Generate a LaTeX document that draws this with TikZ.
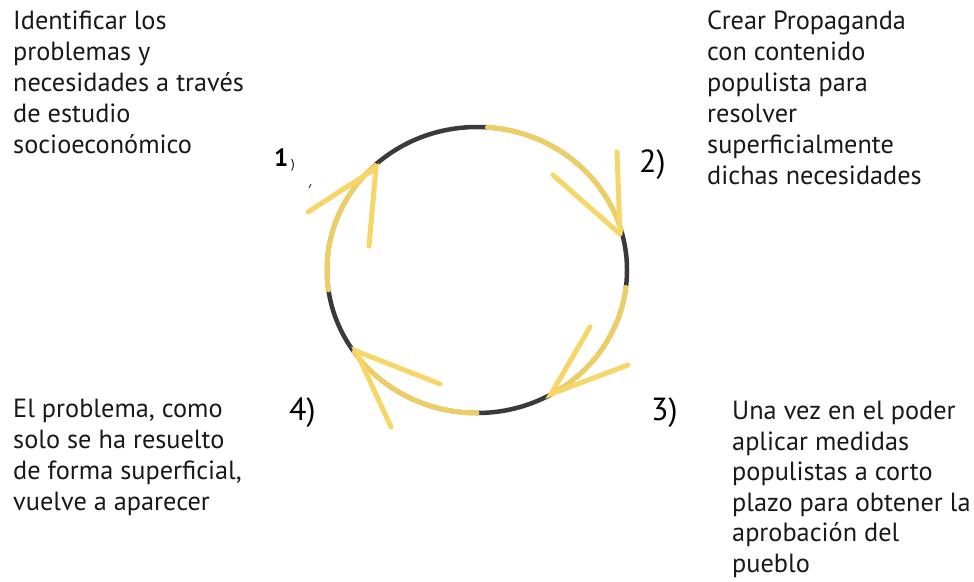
\documentclass[tikz,border=0pt]{standalone}
\usepackage{fontspec}
\setmainfont{PT Sans}
\definecolor{ylw}{RGB}{246,214,104}
\definecolor{drk}{RGB}{58,58,58}
\tikzset{
  ring/.style={draw=drk, line width=4.5pt},
  ylwarc/.style={draw=ylw, line width=5pt, opacity=0.95, line cap=round},
  headline/.style={draw=ylw, line width=5pt, line cap=round},
  desc/.style={anchor=base west, inner sep=0pt, align=left, text=black!90,
    font=\fontsize{26.3}{31}\selectfont},
  num/.style={inner sep=0pt, anchor=base west, font=\fontsize{32}{32}\selectfont}
}
\begin{document}
\begin{tikzpicture}[x=1pt, y=-1pt]
\useasboundingbox (0,0) rectangle (974,581);
% ring
\draw[ring] (477,270) ellipse [x radius=150pt, y radius=143pt];
\draw[ylwarc] plot[domain=86:16, samples=40] ({477+150*cos(\x)},{270-143*sin(\x)});
\draw[ylwarc] plot[domain=-7:-60, samples=40] ({477+150*cos(\x)},{270-143*sin(\x)});
\draw[ylwarc] plot[domain=-90:-145, samples=40] ({477+150*cos(\x)},{270-143*sin(\x)});
\draw[ylwarc] plot[domain=188:133, samples=40] ({477+150*cos(\x)},{270-143*sin(\x)});
% arrow heads
\coordinate (t1) at (376,168);
\coordinate (a1) at (308,212);
\coordinate (b1) at (369,246);
\coordinate (t2) at (620,234);
\coordinate (a2) at (617,152);
\coordinate (b2) at (553,175);
\coordinate (t3) at (551,394);
\coordinate (a3) at (590,327);
\coordinate (b3) at (628,365);
\coordinate (t4) at (356,351);
\coordinate (a4) at (440,384);
\coordinate (b4) at (391,427);
\draw[headline] (a1) -- (t1) -- (b1);
\draw[headline] (a2) -- (t2);
\draw[headline] (b2) -- (t2);
\draw[headline] (a3) -- (t3) -- (b3);
\draw[headline] (a4) -- (t4) -- (b4);
% step numbers
\node[inner sep=0pt, anchor=base west, font=\bfseries\fontsize{25}{25}\selectfont] (n1) at (274,166) {1};
\node[inner sep=0pt, anchor=base west, font=\fontsize{13}{13}\selectfont] (n1p) at (291,168) {)};
\coordinate (m1) at (309,188);
\coordinate (m2) at (311,184);
\draw[drk, line width=1pt] (m1) -- (m2);
\node[num] (n2) at (639,172) {2)};
\node[num] (n3) at (651,420) {3)};
\node[num] (n4) at (289,420) {4)};
% descriptions (anchored at the baseline of their last line)
\node[desc] (d1) at (13,153) {Identificar los\\problemas y\\necesidades a través\\de estudio\\socioeconómico};
\node[desc] (d2) at (707,184) {Crear Propaganda\\con contenido\\populista para\\resolver\\superficialmente\\dichas necesidades};
\node[desc] (d4) at (13,510) {El problema, como\\solo se ha resuelto\\de forma superficial,\\vuelve a aparecer};
\node[desc, font=\fontsize{26.3}{30.5}\selectfont] (d3) at (732,572) {Una vez en el poder\\aplicar medidas\\populistas a corto\\plazo para obtener la\\aprobación del\\pueblo};
\end{tikzpicture}
\end{document}
